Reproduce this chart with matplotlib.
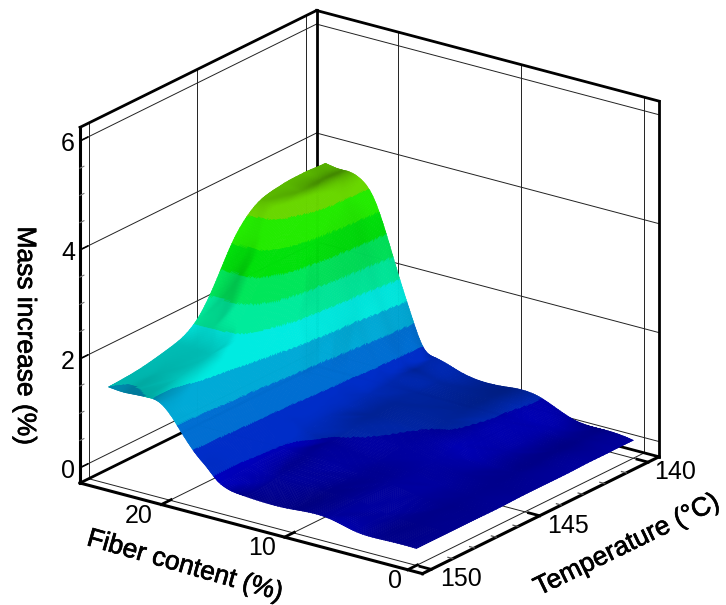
import numpy as np
import matplotlib
matplotlib.use("Agg")
import matplotlib.pyplot as plt
import matplotlib.patheffects as pe
from matplotlib.tri import Triangulation, UniformTriRefiner
from mpl_toolkits.mplot3d import proj3d
from mpl_toolkits.mplot3d.art3d import Poly3DCollection

plt.rcParams['font.family'] = ['Liberation Sans', 'DejaVu Sans']

# values
fiber = [0, 2.5, 5, 7.5, 10, 14, 16, 17, 18, 19, 20, 21, 22, 23.5, 25]
temperature = [150, 148.5, 147, 146, 145, 144, 143, 142, 141, 140]
mass = [
    [.03, .03, .05, .17, .15, .16, .28, .50, .72, 1.00, 1.30, 1.48, 1.50, 1.48, 1.50],
    [.03, .04, .07, .18, .18, .20, .32, .50, .75, 1.03, 1.33, 1.50, 1.55, 1.55, 1.55],
    [.03, .05, .09, .19, .22, .30, .37, .55, .78, 1.10, 1.42, 1.62, 1.68, 1.68, 1.68],
    [.03, .06, .10, .20, .25, .36, .45, .58, .80, 1.15, 1.55, 1.80, 1.88, 1.90, 1.90],
    [.04, .07, .11, .22, .31, .42, .50, .62, .85, 1.25, 1.70, 2.10, 2.40, 2.48, 2.50],
    [.04, .08, .12, .28, .36, .45, .52, .65, .90, 1.35, 1.95, 2.50, 2.95, 3.15, 3.20],
    [.04, .09, .13, .33, .40, .46, .53, .66, .95, 1.50, 2.10, 2.80, 3.25, 3.50, 3.55],
    [.05, .10, .14, .35, .42, .47, .55, .68, 1.05, 1.60, 2.30, 3.00, 3.45, 3.60, 3.64],
    [.05, .10, .15, .37, .42, .47, .57, .70, 1.15, 1.75, 2.45, 3.10, 3.50, 3.62, 3.66],
    [.05, .10, .15, .38, .42, .46, .60, .72, 1.25, 1.90, 2.60, 3.20, 3.50, 3.60, 3.64],
]
levels = [.375, .75, 1.125, 1.5, 1.875, 2.25, 2.625, 3.0, 3.375]
band_colors = [
    (0, 0, 190), (0, 45, 200), (0, 110, 210), (0, 170, 215), (0, 235, 225),
    (0, 235, 155), (0, 230, 90), (0, 225, 10), (35, 235, 0), (105, 215, 0),
]
z_ticks = [0, 2, 4, 6]
fiber_ticks = [0, 10, 20]
temp_ticks = [150, 145, 140]

F_MIN, F_MAX = -1.2, 26.6
T_MIN, T_MAX = 139.5, 150.4
Z_MIN, Z_MAX = -0.28, 6.25

fig = plt.figure(figsize=(7.26, 6.05), dpi=100)
ax = fig.add_axes([0, 0, 1, 1], projection='3d', computed_zorder=False)
ax.set_proj_type('ortho')
ax.view_init(elev=21.2, azim=126.2)
ax.set_box_aspect((425, 401, 382))
ax.set_xlim(F_MIN, F_MAX)
ax.set_ylim(T_MIN, T_MAX)
ax.set_zlim(Z_MIN, Z_MAX)
ax.set_axis_off()
ax.patch.set_alpha(0)


def project(f, t, z):
    x2, y2, _ = proj3d.proj_transform(f, t, z, ax.get_proj())
    return x2, y2


# put the box on the same pixels as the reference
xa, ya = project(F_MAX, T_MAX, Z_MIN)
xb, yb = project(F_MIN, T_MIN, Z_MAX)
vl = ax.viewLim
scale = (659 - 80) / (xb - xa)
left = 80 - scale * (xa - vl.x0)
bottom = (605 - 483) - scale * (ya - vl.y0)
ax.set_position([left / 726, bottom / 605, scale * vl.width / 726, scale * vl.height / 605])


def line(fs, ts, zs, lw=0.7, color='#222222', zorder=1):
    ax.plot(fs, ts, zs, color=color, lw=lw, zorder=zorder, solid_capstyle='projecting')


# grid on the floor and the two back walls
for f in fiber_ticks:
    line([f, f], [T_MIN, T_MAX], [Z_MIN, Z_MIN])
    line([f, f], [T_MIN, T_MIN], [Z_MIN, Z_MAX])
for t in temp_ticks:
    line([F_MIN, F_MAX], [t, t], [Z_MIN, Z_MIN])
    line([F_MAX, F_MAX], [t, t], [Z_MIN, Z_MAX])
for z in z_ticks:
    line([F_MAX, F_MAX], [T_MIN, T_MAX], [z, z])
    line([F_MIN, F_MAX], [T_MIN, T_MIN], [z, z])

# back edges
line([F_MAX, F_MAX], [T_MIN, T_MIN], [Z_MIN, Z_MAX], lw=2, color='black')
line([F_MAX, F_MAX], [T_MIN, T_MAX], [Z_MAX, Z_MAX], lw=2, color='black')
line([F_MAX, F_MIN], [T_MIN, T_MIN], [Z_MAX, Z_MAX], lw=2, color='black')
line([F_MIN, F_MIN], [T_MIN, T_MIN], [Z_MIN, Z_MAX], lw=2, color='black')
line([F_MAX, F_MAX], [T_MIN, T_MAX], [Z_MIN, Z_MIN], lw=2, color='black')
line([F_MIN, F_MAX], [T_MIN, T_MIN], [Z_MIN, Z_MIN], lw=2, color='black')

# surface
ff, tt = np.meshgrid(fiber, temperature)
tri = Triangulation(ff.ravel(), tt.ravel())
refiner = UniformTriRefiner(tri)
tri_fine, mass_fine = refiner.refine_field(np.array(mass).ravel(), subdiv=4)

tris = tri_fine.triangles
verts = np.stack((tri_fine.x[tris], tri_fine.y[tris], mass_fine[tris]), axis=-1)

# smooth shading: face normals averaged onto the vertices
box_scale = np.array([425 / (F_MAX - F_MIN), 401 / (T_MAX - T_MIN), 382 / (Z_MAX - Z_MIN)])
scaled = verts * box_scale
normals = np.cross(scaled[:, 1] - scaled[:, 0], scaled[:, 2] - scaled[:, 0])
normals[normals[:, 2] < 0] *= -1
vertex_normals = np.zeros((len(tri_fine.x), 3))
for k in range(3):
    np.add.at(vertex_normals, tris[:, k], normals)
vertex_normals /= np.linalg.norm(vertex_normals, axis=1, keepdims=True)
light = np.array([-0.6, 0.5, 0.6])
light = light / np.linalg.norm(light)
vertex_shade = np.minimum(0.05 + 1.1 * np.clip(vertex_normals @ light, 0, 1), 1.0)
shade = vertex_shade[tris].mean(axis=1)

bands = np.digitize(verts[:, :, 2].mean(axis=1), levels)
colors = np.clip(np.array(band_colors)[bands] / 255 * shade[:, None], 0, 1)

surface = Poly3DCollection(verts, facecolors=colors, edgecolors=colors, linewidths=0.4, zorder=2)
ax.add_collection3d(surface)

# front edges
line([F_MAX, F_MAX], [T_MAX, T_MAX], [Z_MIN, Z_MAX], lw=2.2, color='black', zorder=3)
line([F_MIN, F_MAX], [T_MAX, T_MAX], [Z_MIN, Z_MIN], lw=2.2, color='black', zorder=3)
line([F_MIN, F_MIN], [T_MIN, T_MAX], [Z_MIN, Z_MIN], lw=2.2, color='black', zorder=3)

# ticks
for z in np.arange(0, 6.01, 0.5):
    major = z in z_ticks
    line([F_MAX, F_MAX], [T_MAX, T_MAX - (0.35 if major else 0.18)], [z, z],
         lw=1.2 if major else 0.8, color='black' if major else '#777777', zorder=3)
for f in fiber_ticks:
    line([f, f], [T_MAX, T_MAX - 0.45], [Z_MIN, Z_MIN], lw=2, color='black', zorder=3)
for t in np.arange(140, 150.01, 1):
    major = t in temp_ticks
    line([F_MIN, F_MIN + (0.9 if major else 0.4)], [t, t], [Z_MIN, Z_MIN],
         lw=2 if major else 0.9, color='black' if major else '#555555', zorder=3)


def tick_label(f, t, z, text, dx, dy):
    ax.annotate(text, project(f, t, z), xytext=(dx, dy), textcoords='offset pixels',
                ha='center', va='center', fontsize=18, annotation_clip=False)


for z in z_ticks:
    tick_label(F_MAX, T_MAX, z, str(z), -12, -3)
for f, dx in zip(fiber_ticks, [-13, -22, -23]):
    tick_label(f, T_MAX, Z_MIN, str(f), dx, -11)
for t, dx in zip(temp_ticks, [30, 28, 27]):
    tick_label(F_MIN, t, Z_MIN, str(t), dx, -10)

semi_bold = [pe.withStroke(linewidth=0.5, foreground='black')]
fig.text(25 / 726, 1 - 336 / 605, "Mass increase (%)", rotation=-90, fontsize=19,
         ha='center', va='center', path_effects=semi_bold)
fig.text(185 / 726, 1 - 566 / 605, "Fiber content (%)", rotation=-16, fontsize=19,
         ha='center', va='center', rotation_mode='anchor', path_effects=semi_bold)
fig.text(627 / 726, 1 - 545 / 605, "Temperature (°C)", rotation=26, fontsize=19,
         ha='center', va='center', rotation_mode='anchor', path_effects=semi_bold)

fig.savefig("out.png", dpi=100)
